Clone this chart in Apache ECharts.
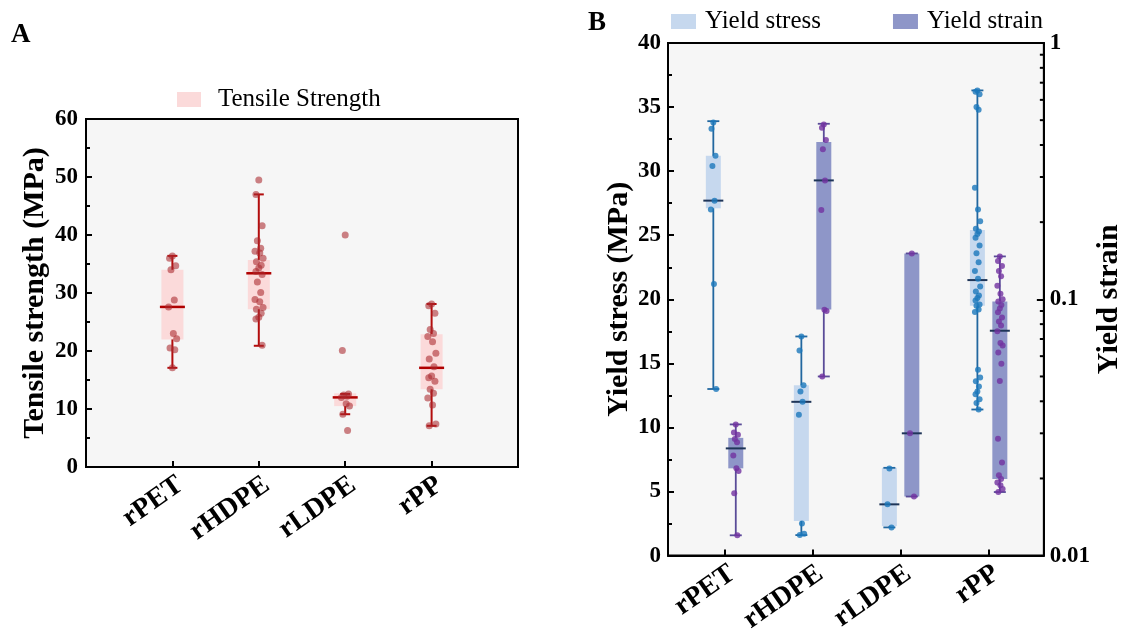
<!DOCTYPE html>
<html><head><meta charset="utf-8">
<script src="https://cdn.jsdelivr.net/npm/echarts@6/dist/echarts.min.js"></script>
<style>html,body{margin:0;padding:0;background:#fff}#c{width:1125px;height:636px}</style>
</head><body><div id="c"></div>
<script>
// ---------- data ----------
const CATEGORIES = ['rPET', 'rHDPE', 'rLDPE', 'rPP'];

// Panel A: tensile strength (MPa). Box stats: [whisker low, Q1, median, Q3, whisker high]
const TENSILE_BOX = [
  [17.1, 22.0, 27.6, 34.0, 36.4],
  [20.9, 27.2, 33.4, 35.7, 47.0],
  [9.1, 10.5, 12.0, 12.7, 12.6],
  [7.1, 13.4, 17.1, 22.9, 28.1]
];
const TENSILE_PTS = [
  [36.4, 36.0, 34.7, 34.0, 28.8, 27.6, 23.0, 22.1, 20.5, 20.2, 17.1],
  [49.5, 47.0, 41.6, 39.0, 37.7, 37.2, 36.9, 36.0, 35.4, 34.8, 34.3, 33.7, 33.2, 31.9, 30.1, 28.9, 28.5, 27.5, 27.2, 26.5, 25.8, 25.5, 21.0],
  [40.0, 20.1, 12.6, 12.4, 12.2, 12.0, 10.9, 10.5, 9.1, 6.3],
  [28.1, 27.8, 26.5, 23.7, 23.0, 22.5, 21.6, 19.6, 18.6, 17.3, 15.7, 15.4, 14.8, 13.4, 12.7, 11.9, 10.7, 7.4, 7.1]
];

// Panel B: yield stress (MPa)
const STRESS_BOX = [
  [13.0, 27.1, 27.7, 31.2, 33.9],
  [1.6, 2.7, 12.0, 13.3, 17.1],
  [2.2, 2.3, 4.0, 6.85, 6.85],
  [11.4, 19.5, 21.5, 25.4, 36.3]
];
const STRESS_PTS = [
  [33.8, 33.3, 31.2, 30.4, 27.7, 27.0, 21.2, 13.0],
  [17.1, 16.0, 13.3, 12.8, 12.0, 11.0, 2.5, 1.7, 1.6],
  [6.8, 4.0, 2.2],
  [36.3, 36.2, 36.0, 35.0, 34.8, 28.7, 27.0, 26.1, 25.5, 25.3, 25.1, 24.8, 24.2, 23.6, 22.9, 22.2, 21.6, 21.0, 20.6, 20.3, 20.1, 19.9, 19.6, 19.5, 19.2, 19.0, 14.5, 13.9, 13.6, 13.2, 12.8, 12.6, 12.2, 11.9, 11.4]
];

// Panel B: yield strain (log axis)
const STRAIN_BOX = [
  [0.0120, 0.0219, 0.0262, 0.0288, 0.0325],
  [0.050, 0.0913, 0.291, 0.411, 0.484],
  [0.0170, 0.0170, 0.030, 0.151, 0.151],
  [0.0177, 0.0199, 0.0754, 0.098, 0.147]
];
const STRAIN_PTS = [
  [0.0325, 0.0302, 0.0296, 0.0285, 0.0277, 0.0246, 0.0219, 0.0214, 0.0175, 0.0120],
  [0.481, 0.467, 0.418, 0.385, 0.291, 0.223, 0.091, 0.090, 0.050],
  [0.151, 0.030, 0.0170],
  [0.147, 0.141, 0.135, 0.129, 0.123, 0.113, 0.105, 0.100, 0.098, 0.095, 0.092, 0.089, 0.085, 0.082, 0.079, 0.075, 0.0675, 0.066, 0.062, 0.056, 0.048, 0.0286, 0.0231, 0.0206, 0.0199, 0.0193, 0.0188, 0.0182, 0.0177]
];

const A_TICKS = [0, 10, 20, 30, 40, 50, 60];
const B_STRESS_TICKS = [0, 5, 10, 15, 20, 25, 30, 35, 40];
const B_STRAIN_TICKS = [0.01, 0.1, 1];
const LOG_MINOR = [0.02, 0.03, 0.04, 0.05, 0.06, 0.07, 0.08, 0.09, 0.2, 0.3, 0.4, 0.5, 0.6, 0.7, 0.8, 0.9];

// ---------- styling ----------
const FONT = "'Liberation Serif','Times New Roman',serif";
const JITTER = [0, -0.6, 0.7, -0.3, 0.4, -0.8, 0.2, 0.9, -0.5, 0.5];
const B_XMIN = 0.36, B_XMAX = 4.63;
const OFF_STRESS = -0.125, OFF_STRAIN = 0.13;

function boxRows(box, off) {
  return box.map((b, i) => [i + 1 + off].concat(b));
}
function ptsRows(pts, off, amp) {
  const out = [];
  pts.forEach((arr, i) => arr.forEach((v, j) => out.push([i + 1 + off + JITTER[j % JITTER.length] * amp, v])));
  return out;
}
function boxRenderer(s) {
  return function (params, api) {
    const x = api.value(0);
    const lo = api.coord([x, api.value(1)]);
    const q1 = api.coord([x, api.value(2)]);
    const md = api.coord([x, api.value(3)]);
    const q3 = api.coord([x, api.value(4)]);
    const hi = api.coord([x, api.value(5)]);
    const cx = q1[0];
    const ch = [];
    ch.push({ type: 'rect', shape: { x: cx - s.bw, y: q3[1], width: 2 * s.bw, height: q1[1] - q3[1] }, style: { fill: s.fill } });
    ch.push({ type: 'line', shape: { x1: cx, y1: hi[1], x2: cx, y2: q3[1] }, style: { stroke: s.line, lineWidth: s.lw } });
    ch.push({ type: 'line', shape: { x1: cx, y1: q1[1], x2: cx, y2: lo[1] }, style: { stroke: s.line, lineWidth: s.lw } });
    ch.push({ type: 'line', shape: { x1: cx - s.cw, y1: hi[1], x2: cx + s.cw, y2: hi[1] }, style: { stroke: s.line, lineWidth: s.lw } });
    ch.push({ type: 'line', shape: { x1: cx - s.cw, y1: lo[1], x2: cx + s.cw, y2: lo[1] }, style: { stroke: s.line, lineWidth: s.lw } });
    ch.push({ type: 'line', shape: { x1: cx - s.mw, y1: md[1], x2: cx + s.mw, y2: md[1] }, style: { stroke: s.med, lineWidth: s.mlw } });
    return { type: 'group', children: ch };
  };
}

const tickLabel = { fontFamily: FONT, fontSize: 23, fontWeight: 'bold', color: '#000' };
const catLabel = {
  fontFamily: FONT, fontSize: 28, fontWeight: 'bold', color: '#000',
  rotate: 35, align: 'right', verticalAlign: 'top', margin: 4,
  formatter: v => (Math.abs(v - Math.round(v)) < 1e-6 && v >= 1 && v <= 4) ? CATEGORIES[Math.round(v) - 1] : ''
};
const nameStyle = { fontFamily: FONT, fontSize: 30, fontWeight: 'bold', color: '#000' };
const axLine = { show: true, lineStyle: { color: '#000', width: 2 } };
const inTick = { show: true, inside: true, length: 6, lineStyle: { color: '#000', width: 2 } };
const inMinor = { show: true, splitNumber: 2, length: 4, lineStyle: { color: '#000', width: 2 } };

const chart = echarts.init(document.getElementById('c'), null, { renderer: 'canvas' });
chart.setOption({
  animation: false,
  backgroundColor: '#ffffff',
  title: [
    { text: 'A', left: 6, top: 17, textStyle: { fontFamily: FONT, fontSize: 27, fontWeight: 'bold', color: '#000' } },
    { text: 'B', left: 583, top: 5, textStyle: { fontFamily: FONT, fontSize: 27, fontWeight: 'bold', color: '#000' } }
  ],
  legend: [
    { data: ['Tensile Strength'], left: 177, top: 87, padding: 0, icon: 'rect', itemWidth: 24, itemHeight: 15,
      textStyle: { fontFamily: FONT, fontSize: 25, color: '#000', padding: [0, 0, 0, 12] } },
    { data: ['Yield stress', 'Yield strain'], left: 671, top: 9, padding: 0, icon: 'rect', itemWidth: 25, itemHeight: 15, itemGap: 72,
      textStyle: { fontFamily: FONT, fontSize: 25, color: '#000', padding: [0, 0, 0, 4] } }
  ],
  grid: [
    { left: 86, top: 119, width: 432, height: 348, show: true, backgroundColor: '#f6f6f6', borderColor: '#000', borderWidth: 2 },
    { left: 668, top: 43, width: 391, height: 522, show: true, backgroundColor: '#f6f6f6', borderColor: '#000', borderWidth: 2 }
  ],
  xAxis: [
    { gridIndex: 0, type: 'value', min: 0, max: 5, interval: 1, axisLine: axLine, axisTick: inTick, splitLine: { show: false }, axisLabel: catLabel },
    { gridIndex: 1, type: 'value', min: B_XMIN, max: B_XMAX, minInterval: 1, maxInterval: 1, splitNumber: 4,
      axisLine: axLine, axisTick: inTick, splitLine: { show: false }, axisLabel: catLabel }
  ],
  yAxis: [
    { gridIndex: 0, type: 'value', min: A_TICKS[0], max: A_TICKS[A_TICKS.length - 1], interval: A_TICKS[1] - A_TICKS[0],
      axisLine: axLine, axisTick: inTick, minorTick: inMinor, splitLine: { show: false }, minorSplitLine: { show: false },
      axisLabel: Object.assign({ margin: 8 }, tickLabel),
      name: 'Tensile strength (MPa)', nameLocation: 'middle', nameGap: 36, nameTextStyle: nameStyle },
    { gridIndex: 1, type: 'value', min: B_STRESS_TICKS[0], max: B_STRESS_TICKS[B_STRESS_TICKS.length - 1], interval: B_STRESS_TICKS[1] - B_STRESS_TICKS[0],
      axisLine: axLine, axisTick: inTick, minorTick: inMinor, splitLine: { show: false }, minorSplitLine: { show: false },
      axisLabel: Object.assign({ margin: 7 }, tickLabel),
      name: 'Yield stress (MPa)', nameLocation: 'middle', nameGap: 34, nameTextStyle: nameStyle },
    { gridIndex: 1, type: 'log', logBase: 10, min: B_STRAIN_TICKS[0], max: B_STRAIN_TICKS[B_STRAIN_TICKS.length - 1], position: 'right',
      axisLine: axLine, axisTick: Object.assign({}, inTick, { length: 7 }), splitLine: { show: false },
      axisLabel: Object.assign({ margin: 6, formatter: v => String(+v.toPrecision(3)) }, tickLabel),
      name: 'Yield strain', nameLocation: 'middle', nameGap: 42, nameRotate: 90, nameTextStyle: nameStyle }
  ],
  series: [
    { name: 'Tensile Strength', type: 'custom', xAxisIndex: 0, yAxisIndex: 0, itemStyle: { color: '#fbdada' },
      encode: { x: 0, y: [1, 2, 3, 4, 5] }, data: boxRows(TENSILE_BOX, 0),
      renderItem: boxRenderer({ bw: 11, cw: 5, mw: 12.5, fill: '#fbdada', line: '#b30d0d', lw: 2, med: '#b00000', mlw: 2.5 }) },
    { name: 'tensile pts', type: 'scatter', xAxisIndex: 0, yAxisIndex: 0, symbolSize: 7,
      itemStyle: { color: 'rgba(170,40,45,0.72)' }, data: ptsRows(TENSILE_PTS, 0, 0.055) },

    { name: 'Yield stress', type: 'custom', xAxisIndex: 1, yAxisIndex: 1, itemStyle: { color: '#c6d8ee' },
      encode: { x: 0, y: [1, 2, 3, 4, 5] }, data: boxRows(STRESS_BOX, OFF_STRESS),
      renderItem: boxRenderer({ bw: 7.5, cw: 6, mw: 10, fill: '#c6d8ee', line: '#22679f', lw: 1.8, med: '#1f3558', mlw: 2 }) },
    { name: 'Yield strain', type: 'custom', xAxisIndex: 1, yAxisIndex: 2, itemStyle: { color: '#8e96c8' },
      encode: { x: 0, y: [1, 2, 3, 4, 5] }, data: boxRows(STRAIN_BOX, OFF_STRAIN),
      renderItem: boxRenderer({ bw: 7.5, cw: 6, mw: 10, fill: '#8e96c8', line: '#5a4c98', lw: 1.8, med: '#1f3558', mlw: 2 }) },
    { name: 'stress pts', type: 'scatter', xAxisIndex: 1, yAxisIndex: 1, symbolSize: 6,
      itemStyle: { color: '#1b78bb' }, data: ptsRows(STRESS_PTS, OFF_STRESS, 0.035) },
    { name: 'strain pts', type: 'scatter', xAxisIndex: 1, yAxisIndex: 2, symbolSize: 6,
      itemStyle: { color: '#7232a0' }, data: ptsRows(STRAIN_PTS, OFF_STRAIN, 0.035) },
    { name: 'log minor ticks', type: 'custom', xAxisIndex: 1, yAxisIndex: 2, silent: true, clip: false,
      encode: { x: 0, y: 1 }, data: LOG_MINOR.map(v => [B_XMAX, v]),
      renderItem: function (params, api) {
        const p = api.coord([api.value(0), api.value(1)]);
        return { type: 'line', shape: { x1: p[0], y1: p[1], x2: p[0] - 4, y2: p[1] }, style: { stroke: '#000', lineWidth: 2 } };
      } }
  ]
});
</script></body></html>
